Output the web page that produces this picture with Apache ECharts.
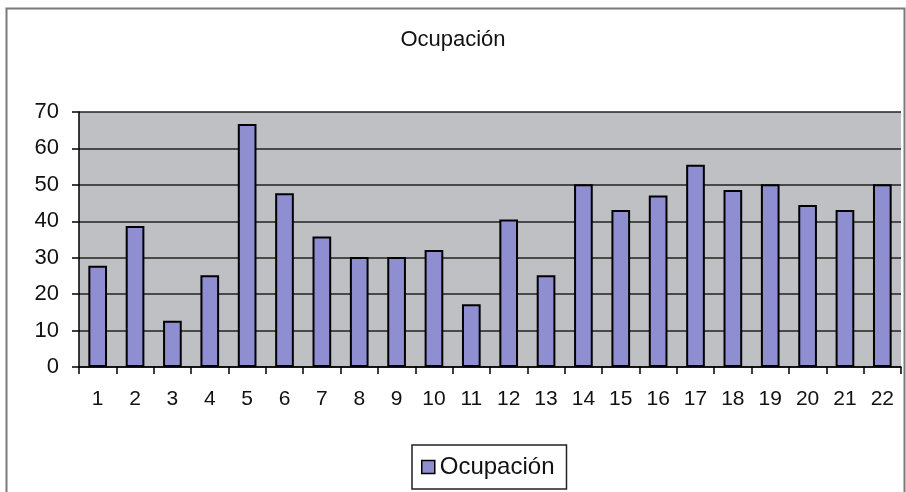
<!DOCTYPE html>
<html>
<head>
<meta charset="utf-8">
<script src="https://cdn.jsdelivr.net/npm/echarts@6/dist/echarts.min.js"></script>
<style>
html,body{margin:0;padding:0;background:#fff;}
#chart{width:906px;height:492px;}
</style>
</head>
<body>
<div id="chart"></div>
<script>
var categories = ['1','2','3','4','5','6','7','8','9','10','11','12','13','14','15','16','17','18','19','20','21','22'];
var ocupacion = [27.8, 38.7, 12.7, 25.2, 66.7, 47.7, 35.8, 30.2, 30.2, 32.1, 17.2, 40.5, 25.2, 50.2, 43.1, 47.1, 55.5, 48.6, 50.2, 44.5, 43.1, 50.2];
var yTicks = [0, 10, 20, 30, 40, 50, 60, 70];

var chart = echarts.init(document.getElementById('chart'));
var font = '"Liberation Sans", Arial, sans-serif';
chart.setOption({
  backgroundColor: '#ffffff',
  animation: false,
  title: {
    text: 'Ocupación',
    left: 'center',
    top: 24,
    textStyle: {fontFamily: font, fontSize: 22, fontWeight: 'normal', color: '#111'}
  },
  graphic: [{
    type: 'rect',
    shape: {x: 6.5, y: 8.5, width: 898, height: 490},
    style: {fill: 'none', stroke: '#7a7a7a', lineWidth: 2},
    silent: true,
    z: -1
  }],
  legend: {
    left: 412,
    top: 445,
    data: ['Ocupación'],
    icon: 'rect',
    itemWidth: 13,
    itemHeight: 13,
    itemGap: 6,
    padding: [10, 12, 10, 9],
    borderColor: '#222',
    borderWidth: 1.5,
    itemStyle: {borderColor: '#000', borderWidth: 1.5},
    textStyle: {fontFamily: font, fontSize: 24, color: '#111'}
  },
  grid: {
    left: 79, right: 5, top: 112, bottom: 125,
    show: true,
    backgroundColor: '#bfc0c3',
    borderWidth: 0
  },
  xAxis: {
    type: 'category',
    data: categories,
    axisLine: {lineStyle: {color: '#000', width: 1.5}},
    axisTick: {show: true, length: 7, lineStyle: {color: '#000', width: 1.5}},
    axisLabel: {fontFamily: font, fontSize: 21, color: '#111', margin: 22}
  },
  yAxis: {
    type: 'value',
    min: 0, max: 70, interval: 10,
    axisLine: {show: true, lineStyle: {color: '#000', width: 1.5}},
    axisTick: {show: true, length: 7, lineStyle: {color: '#000', width: 1.5}},
    axisLabel: {fontFamily: font, fontSize: 22, color: '#111', margin: 20,
      formatter: function (v) { return yTicks.indexOf(v) >= 0 ? String(v) : ''; }},
    splitLine: {show: true, lineStyle: {color: '#222', width: 1.5}}
  },
  series: [{
    name: 'Ocupación',
    type: 'bar',
    data: ocupacion,
    barWidth: '50%',
    itemStyle: {color: '#8e8ed0', borderColor: '#000', borderWidth: 2}
  }]
});
</script>
</body>
</html>
